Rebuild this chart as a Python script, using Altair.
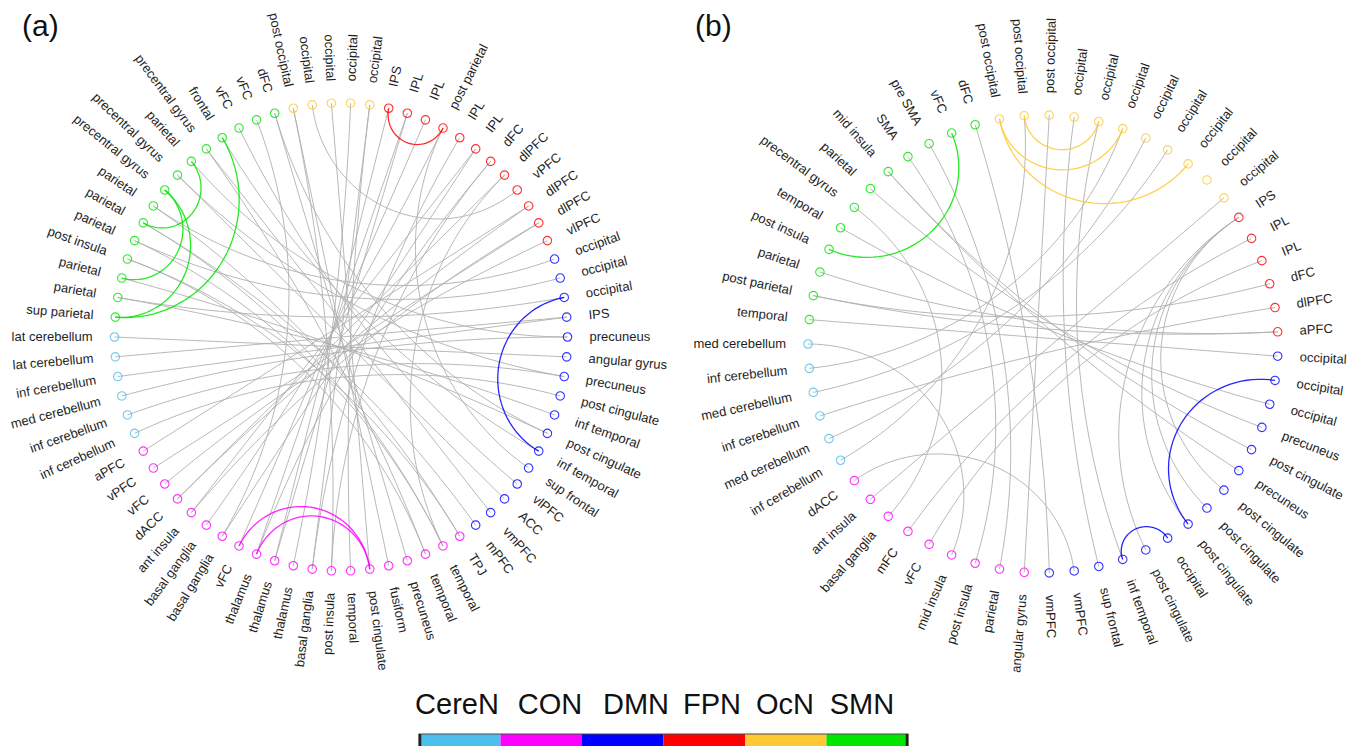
import math
import numpy as np
import pandas as pd
import altair as alt

# ---------------- data ----------------
NETWORKS = ["CereN", "CON", "DMN", "FPN", "OcN", "SMN"]
NET_COLORS = ["#4cbfec", "#ff00ff", "#0000ff", "#ff0000", "#ffc933", "#00e600"]
panel_tags = ["(a)", "(b)"]

labels_a = [
    "lat cerebellum",
    "sup parietal", "parietal", "parietal", "post insula", "parietal", "parietal", "parietal",
    "precentral gyrus", "precentral gyrus", "parietal", "precentral gyrus", "frontal", "vFC", "vFC", "dFC",
    "post occipital", "occipital", "occipital", "occipital", "occipital",
    "IPS", "IPL", "IPL", "post parietal", "IPL", "IPL", "dFC", "dlPFC", "vPFC", "dlPFC", "dlPFC", "vlPFC",
    "occipital", "occipital", "occipital", "IPS", "precuneus", "angular gyrus", "precuneus", "post cingulate",
    "inf temporal", "post cingulate", "inf temporal", "sup frontal", "vlPFC", "ACC", "vmPFC", "mPFC",
    "TPJ", "temporal", "temporal", "precuneus", "fusiform", "post cingulate", "temporal", "post insula",
    "basal ganglia", "thalamus", "thalamus", "thalamus", "vFC", "basal ganglia", "basal ganglia", "ant insula",
    "dACC", "vFC", "vPFC", "aPFC",
    "inf cerebellum", "inf cerebellum", "med cerebellum", "inf cerebellum", "lat cerebellum",
]
nets_a = (["CereN"] * 1 + ["SMN"] * 15 + ["OcN"] * 5 + ["FPN"] * 12 + ["DMN"] * 16
          + ["CON"] * 20 + ["CereN"] * 5)
edges_a = [
    # within-network
    (1, 12), (1, 8), (3, 8), (6, 10), (21, 24), (35, 43), (61, 54), (60, 54),
    # between-network
    (0, 38), (73, 36), (72, 36), (71, 37), (70, 39), (69, 40),
    (68, 30), (67, 31), (66, 32), (65, 28), (64, 26), (63, 24), (62, 14), (61, 23),
    (60, 22), (59, 21), (58, 19), (57, 25), (56, 27), (55, 20), (54, 18), (53, 16),
    (52, 15), (51, 11), (50, 6), (49, 4),
    (2, 41), (3, 42), (5, 34), (6, 48), (7, 33), (9, 46), (11, 47), (13, 45),
    (17, 29), (44, 24), (28, 50), (35, 2),
    (4, 51), (5, 50), (7, 49), (9, 39), (12, 43), (15, 42), (16, 56), (20, 57),
    (26, 62), (27, 60), (30, 65), (31, 64), (22, 59), (10, 37),
]

labels_b = [
    "med cerebellum",
    "temporal", "post parietal", "parietal", "post insula", "temporal", "precentral gyrus", "parietal",
    "mid insula", "SMA", "pre SMA", "vFC", "dFC",
    "post occipital", "post occipital", "post occipital", "occipital", "occipital", "occipital",
    "occipital", "occipital", "occipital", "occipital", "occipital",
    "IPS", "IPL", "IPL", "dFC", "dlPFC", "aPFC",
    "occipital", "occipital", "occipital", "precuneus", "post cingulate", "precuneus", "post cingulate",
    "post cingulate", "post cingulate", "occipital", "post cingulate", "inf temporal", "sup frontal",
    "vmPFC", "vmPFC",
    "angular gyrus", "parietal", "post insula", "mid insula", "vFC", "mFC", "basal ganglia",
    "ant insula", "dACC",
    "inf cerebellum", "med cerebellum", "inf cerebellum", "med cerebellum", "inf cerebellum",
]
nets_b = (["CereN"] * 1 + ["SMN"] * 12 + ["OcN"] * 11 + ["FPN"] * 6 + ["DMN"] * 15
          + ["CON"] * 9 + ["CereN"] * 5)
edges_b = [
    # within-network
    (11, 4), (14, 17), (13, 18), (13, 21), (31, 38), (41, 39),
    # between-network
    (0, 48), (1, 30), (2, 27), (2, 29), (3, 29), (5, 32), (6, 51), (7, 33), (8, 34), (8, 35),
    (9, 47), (10, 46), (12, 44), (15, 45), (16, 42), (17, 41), (18, 58), (19, 55), (20, 57),
    (23, 52), (24, 36), (24, 37), (24, 40), (24, 38), (25, 50), (26, 49), (28, 56), (53, 43),
    (54, 14),
]

legend_text_x = [457, 550, 636, 712, 785, 862]

# ---------------- layout ----------------
LAYOUT = {
    "a": dict(cx=341.0, cy=337.0, rx=226.5, ry=234.0, tag_x=22.0, tag_y=36.0),
    "b": dict(cx=1043.0, cy=344.0, rx=235.0, ry=229.0, tag_x=695.0, tag_y=36.0),
}
LABEL_GAP = 22.0
LEG_X0, LEG_X1, LEG_Y0, LEG_Y1, LEG_TEXT_Y = 419.0, 908.0, 734.0, 746.0, 714.0
PAGE_W, PAGE_H, MARGIN = 1363, 754, 8


def arc_points(a, b, n=40):
    """Geodesic (circle orthogonal to the unit circle) from a to b."""
    dot = float(a @ b)
    t = np.linspace(0.0, 1.0, n)
    if dot < -0.995:
        return np.outer(1 - t, a) + np.outer(t, b)
    c = (a + b) / (1.0 + dot)
    r = math.sqrt(max(float(c @ c) - 1.0, 1e-12))
    ta = math.atan2(a[1] - c[1], a[0] - c[0])
    tb = math.atan2(b[1] - c[1], b[0] - c[0])
    d = (tb - ta + math.pi) % (2 * math.pi) - math.pi
    ts = ta + d * t
    return np.column_stack([c[0] + r * np.cos(ts), c[1] + r * np.sin(ts)])


node_rows, edge_rows, tag_rows = [], [], []
for key, tag, labels, nets, edges in [("a", panel_tags[0], labels_a, nets_a, edges_a),
                                      ("b", panel_tags[1], labels_b, nets_b, edges_b)]:
    L = LAYOUT[key]
    n = len(labels)
    phi = np.deg2rad(np.arange(n) * 360.0 / n)
    ux, uy = -np.cos(phi), np.sin(phi)
    for i in range(n):
        x = L["cx"] + L["rx"] * ux[i]
        y = L["cy"] - L["ry"] * uy[i]
        deg = math.degrees(math.atan2(-uy[i], ux[i]))
        if ux[i] >= 0:
            ang, side = deg % 360, "R"
        else:
            ang, side = (deg + 180) % 360, "L"
        node_rows.append(dict(panel=key, idx=i, label=labels[i], net=nets[i], x=x, y=y,
                              lx=x + LABEL_GAP * ux[i], ly=y - LABEL_GAP * uy[i],
                              ang=ang, side=side))
    for e, (s, t) in enumerate(edges):
        pts = arc_points(np.array([ux[s], uy[s]]), np.array([ux[t], uy[t]]))
        kind = nets[s] if nets[s] == nets[t] else "gray"
        for k, (px, py) in enumerate(pts):
            edge_rows.append(dict(eid=f"{key}{e}", k=k, net=kind,
                                  x=L["cx"] + L["rx"] * px, y=L["cy"] - L["ry"] * py))
    tag_rows.append(dict(tag=tag, x=L["tag_x"], y=L["tag_y"]))

nodes = pd.DataFrame(node_rows)
edges_df = pd.DataFrame(edge_rows)
tags = pd.DataFrame(tag_rows)

seg_w = (LEG_X1 - LEG_X0) / len(NETWORKS)
legend = pd.DataFrame(dict(net=NETWORKS,
                           x0=[LEG_X0 + i * seg_w for i in range(len(NETWORKS))],
                           x1=[LEG_X0 + (i + 1) * seg_w for i in range(len(NETWORKS))],
                           y0=LEG_Y0, y1=LEG_Y1, ty=LEG_TEXT_Y, tx=legend_text_x))
legend_frame = pd.DataFrame(dict(x0=[LEG_X0], x1=[LEG_X1], y0=[LEG_Y0], y1=[LEG_Y1 + 2]))
legend_ends = pd.DataFrame(dict(x=[LEG_X0 + 1, LEG_X1 - 1], y0=[LEG_Y0] * 2, y1=[LEG_Y1] * 2))

# ---------------- chart ----------------
FONT = "Liberation Sans"
xs = alt.Scale(domain=[MARGIN, PAGE_W - MARGIN], nice=False, zero=False)
ys = alt.Scale(domain=[PAGE_H - MARGIN, MARGIN], nice=False, zero=False)
cs = alt.Scale(domain=NETWORKS, range=NET_COLORS)


def X(f):
    return alt.X(f"{f}:Q", scale=xs, axis=None)


def Y(f):
    return alt.Y(f"{f}:Q", scale=ys, axis=None)


gray_edges = alt.Chart(edges_df[edges_df.net == "gray"]).mark_line(
    strokeWidth=0.95, color="#b0b0b0", opacity=0.95
).encode(x=X("x"), y=Y("y"), detail="eid:N", order="k:Q")

col_edges = alt.Chart(edges_df[edges_df.net != "gray"]).mark_line(
    strokeWidth=1.3, opacity=0.85
).encode(x=X("x"), y=Y("y"), detail="eid:N", order="k:Q",
         color=alt.Color("net:N", scale=cs, legend=None))

node_pts = alt.Chart(nodes).mark_point(
    shape="circle", filled=False, size=72, strokeWidth=1.1, opacity=0.8
).encode(x=X("x"), y=Y("y"), color=alt.Color("net:N", scale=cs, legend=None))

lab_r = alt.Chart(nodes[nodes.side == "R"]).mark_text(
    align="left", baseline="middle", fontSize=13, font=FONT, color="#1e1e1e"
).encode(x=X("lx"), y=Y("ly"), text="label:N", angle=alt.Angle("ang:Q", scale=None))

lab_l = alt.Chart(nodes[nodes.side == "L"]).mark_text(
    align="right", baseline="middle", fontSize=13, font=FONT, color="#1e1e1e"
).encode(x=X("lx"), y=Y("ly"), text="label:N", angle=alt.Angle("ang:Q", scale=None))

tag_txt = alt.Chart(tags).mark_text(
    align="left", baseline="alphabetic", fontSize=30, font=FONT, color="#111"
).encode(x=X("x"), y=Y("y"), text="tag:N")

leg_rect = alt.Chart(legend).mark_rect().encode(
    x=X("x0"), x2="x1", y=Y("y0"), y2="y1",
    color=alt.Color("net:N", scale=cs, legend=None))

leg_frame = alt.Chart(legend_frame).mark_rect(
    filled=False, stroke="#4a4a4a", strokeWidth=1.2
).encode(x=X("x0"), x2="x1", y=Y("y0"), y2="y1")

leg_ends = alt.Chart(legend_ends).mark_rule(color="#222", strokeWidth=2.5).encode(
    x=X("x"), y=Y("y0"), y2="y1")

leg_txt = alt.Chart(legend).mark_text(
    align="center", baseline="alphabetic", fontSize=29, font=FONT, color="#111"
).encode(x=X("tx"), y=Y("ty"), text="net:N")

chart = alt.layer(
    gray_edges, col_edges, node_pts, lab_r, lab_l, tag_txt, leg_rect, leg_frame, leg_ends, leg_txt
).properties(
    width=PAGE_W - 2 * MARGIN, height=PAGE_H - 2 * MARGIN,
    autosize=alt.AutoSizeParams(type="none"), padding=0
).configure_view(stroke=None)

chart.save("out.html", embed_options={"renderer": "svg", "actions": False})
